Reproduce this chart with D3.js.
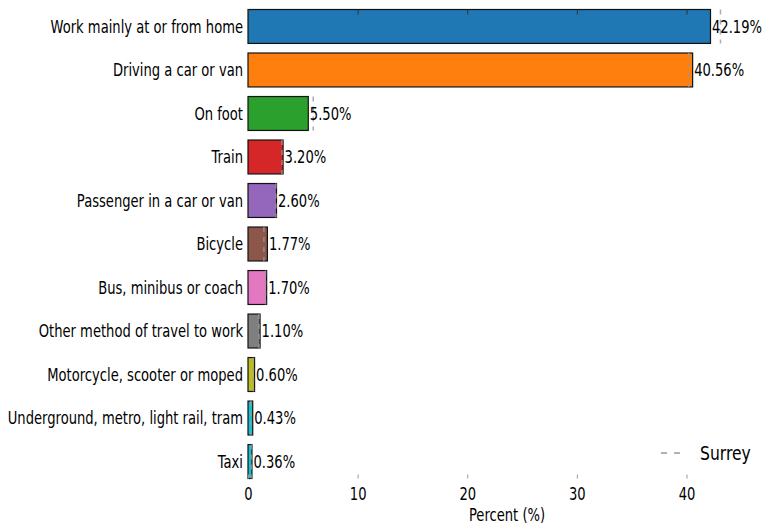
<!DOCTYPE html>
<html>
<head>
<meta charset="utf-8">
<script src="https://cdn.jsdelivr.net/npm/d3@7"></script>
<style>
  body { margin: 0; background: #fff; }
  text { font-family: "DejaVu Sans", sans-serif; fill: #000; }
</style>
</head>
<body>
<div id="chart"></div>
<script>
const categories = [
    "Work mainly at or from home",
    "Driving a car or van",
    "On foot",
    "Train",
    "Passenger in a car or van",
    "Bicycle",
    "Bus, minibus or coach",
    "Other method of travel to work",
    "Motorcycle, scooter or moped",
    "Underground, metro, light rail, tram",
    "Taxi"
];
const values = [42.19, 40.56, 5.50, 3.20, 2.60, 1.77, 1.70, 1.10, 0.60, 0.43, 0.36];
const surreyValues = [43.1, 40.2, 5.95, 3.1, 2.55, 1.45, 1.6, 1.0, 0.5, 0.25, 0.3];
const colors = ["#1f77b4", "#ff7f0e", "#2ca02c", "#d62728", "#9467bd", "#8c564b",
    "#e377c2", "#7f7f7f", "#bcbd22", "#17becf", "#17becf"];
const xTicks = [0, 10, 20, 30, 40];

const width = 774, height = 532;
const margin = { top: 9.5, right: 8, bottom: 53.5, left: 248 };
const sx = 0.75; // the text in the picture is narrow
const fs = 17.5;

const svg = d3.select("#chart")
    .append("svg")
    .attr("width", width)
    .attr("height", height);

const g = svg.append("g")
    .attr("transform", `translate(${margin.left},${margin.top})`);

const innerW = width - margin.left - margin.right;
const innerH = height - margin.top - margin.bottom;

const x = d3.scaleLinear().domain([0, d3.max(values) * 1.12]).range([0, innerW]);
const y = d3.scaleBand().domain(categories).range([0, innerH])
    .paddingInner(0.22).paddingOuter(0);

// bars
g.selectAll("rect.bar")
    .data(values)
    .enter()
    .append("rect")
    .attr("class", "bar")
    .attr("x", x(0))
    .attr("y", (d, i) => y(categories[i]))
    .attr("width", d => x(d) - x(0))
    .attr("height", y.bandwidth())
    .attr("fill", (d, i) => colors[i])
    .attr("stroke", "#111")
    .attr("stroke-width", 1.2);

// surrey reference lines
g.selectAll("line.surrey")
    .data(surreyValues)
    .enter()
    .append("line")
    .attr("class", "surrey")
    .attr("x1", d => x(d))
    .attr("x2", d => x(d))
    .attr("y1", (d, i) => y(categories[i]))
    .attr("y2", (d, i) => y(categories[i]) + y.bandwidth())
    .attr("stroke", "#999")
    .attr("stroke-opacity", 0.8)
    .attr("stroke-width", 1.5)
    .attr("stroke-dasharray", "5,5");

// value labels
g.selectAll("text.val")
    .data(values)
    .enter()
    .append("text")
    .attr("class", "val")
    .attr("transform", (d, i) => `translate(${x(d) + 1.5},${y(categories[i]) + y.bandwidth() / 2}) scale(${sx},1)`)
    .attr("dy", "0.36em")
    .attr("font-size", fs)
    .text(d => d.toFixed(2) + "%");

// y axis
const yAxis = g.append("g")
    .call(d3.axisLeft(y).tickSize(0).tickPadding(5));
yAxis.select(".domain").remove();
yAxis.selectAll("text")
    .attr("font-size", fs)
    .attr("font-family", "DejaVu Sans")
    .attr("fill", "#000")
    .attr("x", 0)
    .attr("dy", "0.36em")
    .attr("transform", `translate(-5,0) scale(${sx},1)`);

// x axis (bottom, ticks pointing in)
const xAxis = g.append("g")
    .attr("transform", `translate(0,${innerH})`)
    .call(d3.axisBottom(x).tickValues(xTicks).tickSize(-4).tickPadding(9).tickFormat(d3.format("d")));
xAxis.select(".domain").remove();
xAxis.selectAll("line").attr("stroke", "#999");
xAxis.selectAll("text")
    .attr("font-size", fs)
    .attr("font-family", "DejaVu Sans")
    .attr("fill", "#000")
    .attr("transform", `scale(${sx},1)`);

// top ticks
const xTop = g.append("g")
    .call(d3.axisTop(x).tickValues(xTicks).tickSize(-5).tickFormat(""));
xTop.select(".domain").remove();
xTop.selectAll("line").attr("stroke", "#333");

// x label
g.append("text")
    .attr("transform", `translate(${innerW / 2},${innerH + 42}) scale(${sx},1)`)
    .attr("text-anchor", "middle")
    .attr("font-size", fs)
    .text("Percent (%)");

// legend
const legend = svg.append("g").attr("transform", "translate(661,453)");
legend.append("line")
    .attr("x1", 0).attr("x2", 20)
    .attr("y1", 0).attr("y2", 0)
    .attr("stroke", "#999")
    .attr("stroke-width", 1.5)
    .attr("stroke-dasharray", "6,7");
legend.append("text")
    .attr("transform", `translate(39,0) scale(0.78,1)`)
    .attr("dy", "0.36em")
    .attr("font-size", 20)
    .text("Surrey");
</script>
</body>
</html>
